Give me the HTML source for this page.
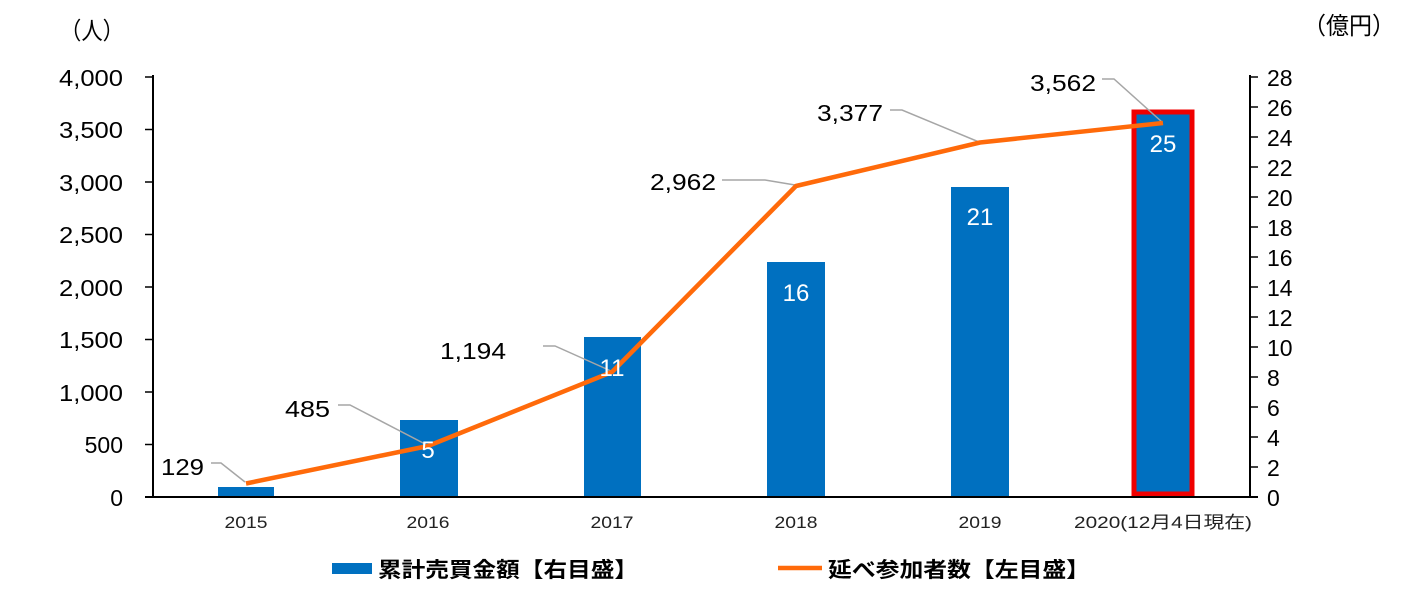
<!DOCTYPE html>
<html><head><meta charset="utf-8"><style>
body{margin:0;background:#fff}
svg text{font-family:"Liberation Sans","Noto Sans CJK JP",sans-serif}
</style></head><body>
<svg width="1414" height="594" viewBox="0 0 1414 594" xmlns="http://www.w3.org/2000/svg">
<rect width="1414" height="594" fill="#fff"/>
<g fill="#0070C0">
<rect x="218" y="487" width="56" height="10"/>
<rect x="400" y="420" width="58" height="77"/>
<rect x="584" y="337" width="57" height="160"/>
<rect x="767" y="262" width="58" height="235"/>
<rect x="951" y="187" width="58" height="310"/>
<rect x="1134" y="113" width="58" height="382"/>
</g>
<rect x="1134" y="112" width="58" height="382" fill="none" stroke="#F00000" stroke-width="5"/>
<g stroke="#000" stroke-width="2">
<line x1="153" y1="75" x2="153" y2="497"/>
<line x1="145" y1="497" x2="1258" y2="497"/>
<line x1="1250" y1="75" x2="1250" y2="497"/>
</g>
<g stroke="#000" stroke-width="1.5">
<line x1="145" y1="77" x2="153" y2="77"/><line x1="145" y1="129.5" x2="153" y2="129.5"/>
<line x1="145" y1="182" x2="153" y2="182"/><line x1="145" y1="234.5" x2="153" y2="234.5"/>
<line x1="145" y1="287" x2="153" y2="287"/><line x1="145" y1="339.5" x2="153" y2="339.5"/>
<line x1="145" y1="392" x2="153" y2="392"/><line x1="145" y1="444.5" x2="153" y2="444.5"/>
<line x1="1250" y1="77" x2="1258" y2="77"/><line x1="1250" y1="107" x2="1258" y2="107"/>
<line x1="1250" y1="137" x2="1258" y2="137"/><line x1="1250" y1="167" x2="1258" y2="167"/>
<line x1="1250" y1="197" x2="1258" y2="197"/><line x1="1250" y1="227" x2="1258" y2="227"/>
<line x1="1250" y1="257" x2="1258" y2="257"/><line x1="1250" y1="287" x2="1258" y2="287"/>
<line x1="1250" y1="317" x2="1258" y2="317"/><line x1="1250" y1="347" x2="1258" y2="347"/>
<line x1="1250" y1="377" x2="1258" y2="377"/><line x1="1250" y1="407" x2="1258" y2="407"/>
<line x1="1250" y1="437" x2="1258" y2="437"/><line x1="1250" y1="467" x2="1258" y2="467"/>
</g>
<g font-size="23" text-anchor="end" fill="#000">
<text x="123" y="86" textLength="64" lengthAdjust="spacingAndGlyphs">4,000</text>
<text x="123" y="138" textLength="64" lengthAdjust="spacingAndGlyphs">3,500</text>
<text x="123" y="191" textLength="64" lengthAdjust="spacingAndGlyphs">3,000</text>
<text x="123" y="243" textLength="64" lengthAdjust="spacingAndGlyphs">2,500</text>
<text x="123" y="296" textLength="64" lengthAdjust="spacingAndGlyphs">2,000</text>
<text x="123" y="348" textLength="64" lengthAdjust="spacingAndGlyphs">1,500</text>
<text x="123" y="401" textLength="64" lengthAdjust="spacingAndGlyphs">1,000</text>
<text x="123" y="453">500</text>
<text x="123" y="506">0</text>
</g>
<text x="60" y="39" font-size="24" textLength="64" lengthAdjust="spacingAndGlyphs">（人）</text>
<text x="1303" y="34" font-size="24" textLength="92" lengthAdjust="spacingAndGlyphs">（億円）</text>
<g font-size="23" text-anchor="start" fill="#000">
<text x="1267" y="86">28</text><text x="1267" y="116">26</text><text x="1267" y="146">24</text>
<text x="1267" y="176">22</text><text x="1267" y="206">20</text><text x="1267" y="236">18</text>
<text x="1267" y="266">16</text><text x="1267" y="296">14</text><text x="1267" y="326">12</text>
<text x="1267" y="356">10</text><text x="1267" y="386">8</text><text x="1267" y="416">6</text>
<text x="1267" y="446">4</text><text x="1267" y="476">2</text><text x="1267" y="506">0</text>
</g>
<g font-size="17" fill="#222" text-anchor="middle">
<text x="246" y="528" textLength="43" lengthAdjust="spacingAndGlyphs">2015</text>
<text x="428" y="528" textLength="43" lengthAdjust="spacingAndGlyphs">2016</text>
<text x="612" y="528" textLength="43" lengthAdjust="spacingAndGlyphs">2017</text>
<text x="796" y="528" textLength="43" lengthAdjust="spacingAndGlyphs">2018</text>
<text x="980" y="528" textLength="43" lengthAdjust="spacingAndGlyphs">2019</text>
<text x="1163" y="528" textLength="178" lengthAdjust="spacingAndGlyphs">2020(12月4日現在)</text>
</g>
<g stroke="#A6A6A6" stroke-width="1.5" fill="none">
<polyline points="211,463 221,463 245,482"/>
<polyline points="338,405 350,405 427,445"/>
<polyline points="543,346 555,346 611,371"/>
<polyline points="722,180 765,180 795,185"/>
<polyline points="890,110 902,110 979,142"/>
<polyline points="1102,79 1114,79 1162,122"/>
</g>
<polyline points="246,483.5 428,446 612,372 796,186 980,142.5 1163,123" fill="none" stroke="#FF6A0A" stroke-width="4.5" stroke-linejoin="round"/>
<g font-size="23" fill="#000">
<text x="161" y="475" textLength="43" lengthAdjust="spacingAndGlyphs">129</text>
<text x="285" y="417" textLength="45" lengthAdjust="spacingAndGlyphs">485</text>
<text x="440" y="359" textLength="66" lengthAdjust="spacingAndGlyphs">1,194</text>
<text x="650" y="190" textLength="66" lengthAdjust="spacingAndGlyphs">2,962</text>
<text x="817" y="121" textLength="66" lengthAdjust="spacingAndGlyphs">3,377</text>
<text x="1030" y="91" textLength="66" lengthAdjust="spacingAndGlyphs">3,562</text>
</g>
<g font-size="24" fill="#fff" text-anchor="middle">
<text x="428" y="458">5</text><text x="612" y="376">11</text><text x="796" y="301">16</text>
<text x="980" y="225">21</text><text x="1163" y="152">25</text>
</g>
<rect x="332" y="563" width="40" height="11" fill="#0070C0"/>
<text x="378" y="577" font-size="21" font-weight="bold" textLength="260" lengthAdjust="spacingAndGlyphs">累計売買金額【右目盛】</text>
<line x1="778" y1="568" x2="822" y2="568" stroke="#FF6A0A" stroke-width="4.5"/>
<text x="828" y="577" font-size="21" font-weight="bold" textLength="262" lengthAdjust="spacingAndGlyphs">延べ参加者数【左目盛】</text>
</svg>
</body></html>
